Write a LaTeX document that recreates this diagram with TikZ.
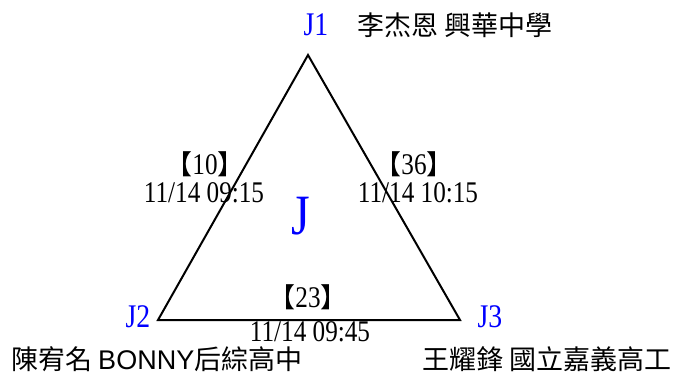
\documentclass[tikz,border=0pt]{standalone}
\usepackage{fontspec}
\setmainfont{Liberation Serif}
\setsansfont{Liberation Sans}
\newfontfamily\cjk{Noto Sans CJK TC}
\newfontfamily\narrowserif{Liberation Serif}[FakeStretch=0.84]
\newcommand\lbr{{\cjk\fontsize{27}{27}\selectfont 【}}
\newcommand\rbr{{\cjk\fontsize{27}{27}\selectfont 】}}
\usetikzlibrary{positioning}

\begin{document}
\begin{tikzpicture}[
  x=1pt, y=-1pt,
  vertex/.style={blue, inner sep=0pt, font=\narrowserif\fontsize{33}{33}\selectfont},
  school/.style={inner sep=0pt, font=\cjk\fontsize{27}{27}\selectfont},
  score/.style={inner sep=0pt, font=\narrowserif\fontsize{30}{30}\selectfont},
  stamp/.style={inner sep=0pt, font=\narrowserif\fontsize{30}{30}\selectfont},
  edge/.style={line width=2pt, line join=miter}
]
\useasboundingbox (0,0) rectangle (675,376);
% corners of the triangle
\coordinate (c1) at (308,55);
\coordinate (c2) at (158,320);
\coordinate (c3) at (460,320);
\draw[edge] (c1) -- (c2) -- (c3) -- cycle;
% group name and team labels
\node[vertex, font=\narrowserif\fontsize{57}{57}\selectfont] (grp) at (301,216) {J};
\node[vertex] (j1) at (316,25) {J1};
\node[vertex] (j2) at (138,317) {J2};
\node[vertex] (j3) at (490,317) {J3};
\node[school, anchor=west] (t1) at (357,25) {李杰恩 興華中學};
\node[school, anchor=west] (t2) at (11,359) {陳宥名 {\sffamily BONNY}后綜高中};
\node[school, anchor=east] (t3) at (672,359) {王耀鋒 國立嘉義高工};
% match numbers and times
\node[score] (m12) at (205,164) {\lbr 10\rbr};
\node[stamp] (d12) at (204,193) {11/14 09:15};
\node[score] (m13) at (414,164) {\lbr 36\rbr};
\node[stamp] (d13) at (418,193) {11/14 10:15};
\node[score] (m23) at (308,297) {\lbr 23\rbr};
\node[stamp] (d23) at (310,332) {11/14 09:45};
\end{tikzpicture}
\end{document}
